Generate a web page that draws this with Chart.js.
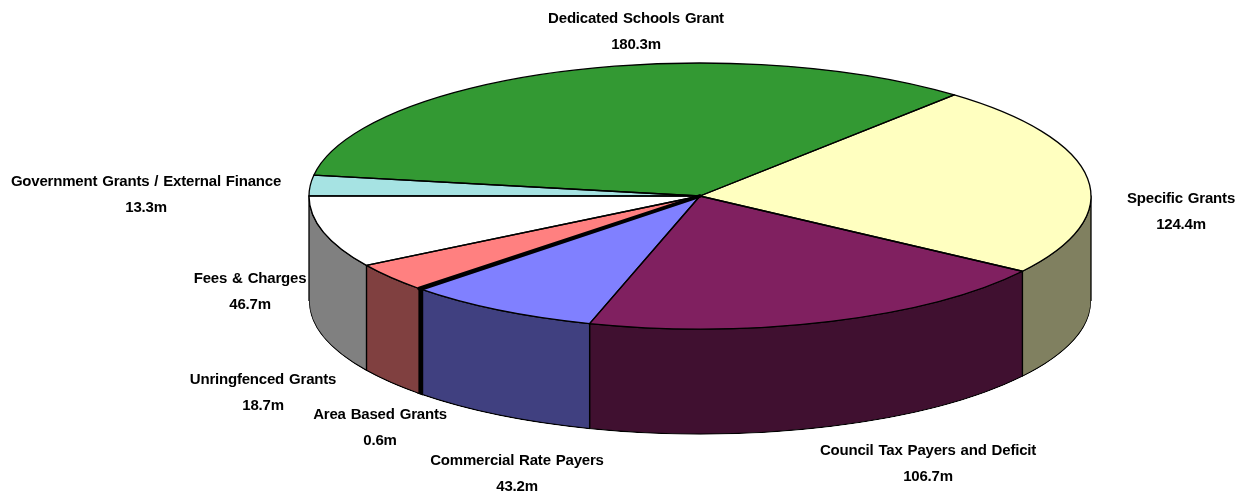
<!DOCTYPE html>
<html>
<head>
<meta charset="utf-8">
<style>
  html, body { margin: 0; padding: 0; background: #ffffff; }
  canvas { display: block; }
</style>
<script src="https://cdn.jsdelivr.net/npm/chart.js@4/dist/chart.umd.min.js"></script>
</head>
<body>
<canvas id="budget" width="1248" height="494"></canvas>
<script>
// Income sources, in £ millions, clockwise from the cyan/green boundary.
const categories = [
  'Dedicated Schools Grant',
  'Specific Grants',
  'Council Tax Payers and Deficit',
  'Commercial Rate Payers',
  'Area Based Grants',
  'Unringfenced Grants',
  'Fees & Charges',
  'Government Grants / External Finance'
];
const values = [180.3, 124.4, 106.7, 43.2, 0.6, 18.7, 46.7, 13.3];

const topColours  = ['#339933', '#FFFFC0', '#802060', '#8080FF', '#000000', '#FF8080', '#FFFFFF', '#A6E3E3'];
const wallColours = ['#1A4D1A', '#808060', '#401030', '#404080', '#000000', '#804040', '#808080', '#536F6F'];
const topOutlineWidths  = [1.3, 1.3, 1.3, 1.3, 3.5, 1.3, 1.3, 1.3];
const wallOutlineWidths = [1.3, 1.3, 1.3, 1.3, 4.5, 1.3, 1.3, 1.3];

// Label block centres: x, first line y.
const labelCentres = [
  [636, 19], [1181, 199], [928, 451], [517, 461],
  [380, 415], [263, 380], [250, 279], [146, 182]
];
const labelLineGap = 26;

// Projection of the flat pie onto a tilted disc.
const discRadiusX = 391;
const discRadiusY = 133;
const wallDepth = 105;

function tilt(ctx, arc, dropY) {
  ctx.translate(arc.x, arc.y + dropY);
  ctx.scale(discRadiusX / arc.outerRadius, discRadiusY / arc.outerRadius);
  ctx.translate(-arc.x, -arc.y);
}

// Parts of an arc's angular span that face the viewer (lower half of the disc).
function frontSpans(start, end) {
  const spans = [];
  for (const base of [-2 * Math.PI, 0, 2 * Math.PI]) {
    const a = Math.max(start, base);
    const b = Math.min(end, base + Math.PI);
    if (b > a) spans.push([a, b]);
  }
  return spans;
}

const tiltedPie = {
  id: 'tiltedPie',
  beforeDatasetsDraw(chart) {
    const ctx = chart.ctx;
    chart.getDatasetMeta(0).data.forEach((element, i) => {
      const arc = element.getProps(['x', 'y', 'startAngle', 'endAngle', 'outerRadius'], true);
      frontSpans(arc.startAngle, arc.endAngle).forEach(([a, b]) => {
        ctx.save();

        // Heavy outlines stop at the bottom rim of the wall.
        ctx.beginPath();
        ctx.rect(0, 0, chart.width, arc.y + wallDepth);
        ctx.save();
        tilt(ctx, arc, wallDepth + 0.7);
        ctx.moveTo(arc.x + arc.outerRadius, arc.y);
        ctx.arc(arc.x, arc.y, arc.outerRadius, 0, 2 * Math.PI);
        ctx.restore();
        ctx.clip();

        ctx.beginPath();
        ctx.save();
        tilt(ctx, arc, 0);
        ctx.arc(arc.x, arc.y, arc.outerRadius, a, b);
        ctx.restore();
        ctx.save();
        tilt(ctx, arc, wallDepth);
        ctx.arc(arc.x, arc.y, arc.outerRadius, b, a, true);
        ctx.restore();
        ctx.closePath();
        ctx.fillStyle = wallColours[i];
        ctx.fill();
        ctx.strokeStyle = '#000000';
        ctx.lineWidth = wallOutlineWidths[i];
        ctx.lineJoin = 'round';
        ctx.stroke();
        ctx.restore();
      });
    });
  },
  beforeDatasetDraw(chart, args) {
    const ctx = chart.ctx;
    ctx.save();
    tilt(ctx, args.meta.data[0].getProps(['x', 'y', 'outerRadius'], true), 0);
  },
  afterDatasetDraw(chart) {
    chart.ctx.restore();
  },
  afterDatasetsDraw(chart) {
    const ctx = chart.ctx;
    // Slice outlines keep an even weight: the path is tilted, the pen is not.
    chart.getDatasetMeta(0).data.forEach((element, i) => {
      const arc = element.getProps(['x', 'y', 'startAngle', 'endAngle', 'outerRadius'], true);
      ctx.save();
      ctx.beginPath();
      ctx.save();
      tilt(ctx, arc, 0);
      ctx.moveTo(arc.x, arc.y);
      ctx.arc(arc.x, arc.y, arc.outerRadius, arc.startAngle, arc.endAngle);
      ctx.closePath();
      ctx.restore();
      ctx.strokeStyle = '#000000';
      ctx.lineWidth = topOutlineWidths[i];
      ctx.lineJoin = 'round';
      ctx.stroke();
      ctx.restore();
    });

    ctx.save();
    ctx.fillStyle = '#000000';
    ctx.font = 'bold 15px "Liberation Sans", Arial, sans-serif';
    ctx.letterSpacing = '-0.2px';
    ctx.wordSpacing = '1px';
    ctx.textAlign = 'center';
    ctx.textBaseline = 'middle';
    categories.forEach((name, i) => {
      const [x, y] = labelCentres[i];
      ctx.fillText(name, x, y);
      ctx.fillText(values[i].toFixed(1) + 'm', x, y + labelLineGap);
    });
    ctx.restore();
  }
};

new Chart(document.getElementById('budget'), {
  type: 'pie',
  data: {
    labels: categories,
    datasets: [{
      data: values,
      backgroundColor: topColours,
      borderWidth: 0,
      clip: false
    }]
  },
  options: {
    responsive: false,
    animation: false,
    rotation: 279,
    layout: { padding: { left: 152, right: 0, top: 0, bottom: 102 } },
    events: [],
    plugins: {
      legend: { display: false },
      tooltip: { enabled: false }
    }
  },
  plugins: [tiltedPie]
});
</script>
</body>
</html>
